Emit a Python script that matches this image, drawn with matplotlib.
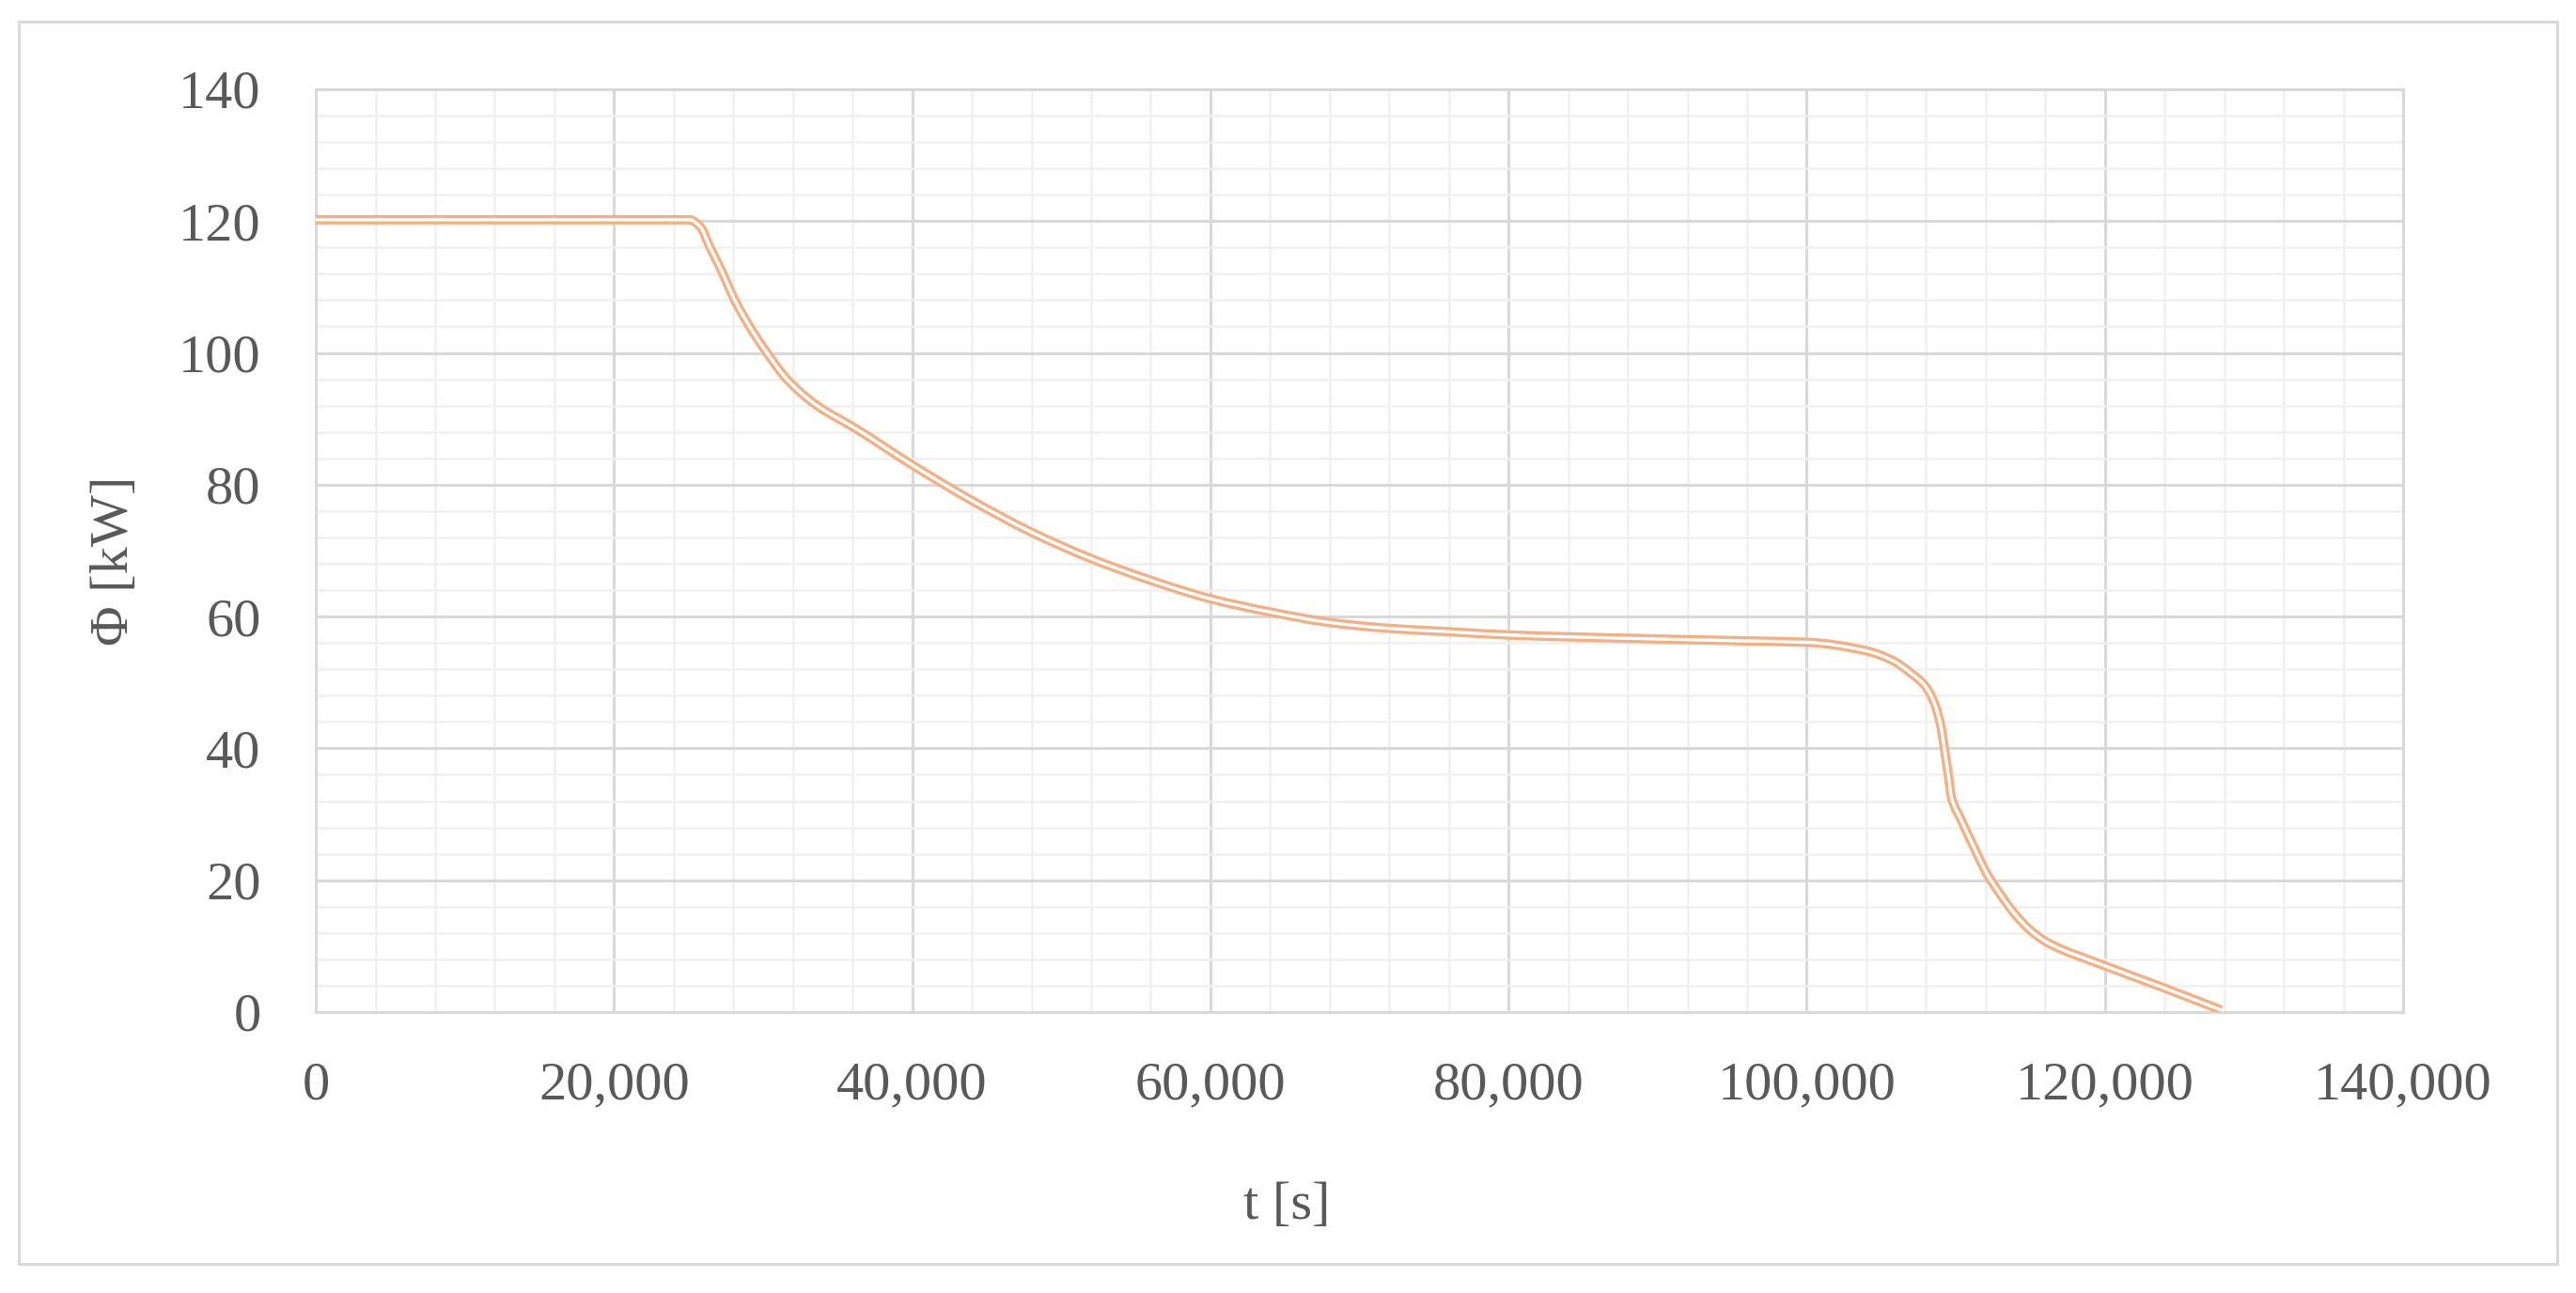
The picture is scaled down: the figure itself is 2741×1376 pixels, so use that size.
import matplotlib
matplotlib.use('Agg')
import matplotlib.pyplot as plt
from matplotlib.ticker import MultipleLocator, FuncFormatter
from matplotlib.patches import Rectangle, PathPatch
from matplotlib.path import Path

# time [s] and heat flow [kW]
t_s = [0, 5000, 10000, 15000, 20000, 24000, 25050, 25800, 26400, 27100, 28100,
       29200, 30200, 31600, 33500, 36300, 40000, 44000, 48000, 52000, 56000,
       60000, 64000, 68000, 72000, 76000, 80000, 88000, 96000, 100000, 104000,
       105700, 107000, 108000, 108600, 109000, 109200, 109500, 109700, 110300,
       111300, 112000, 113000, 113800, 114900, 116100, 119900, 123800, 127800]
phi_kw = [120.2, 120.2, 120.2, 120.2, 120.2, 120.2, 120.2, 119.1, 116.2, 113.0, 108.0,
          103.6, 100.2, 96.0, 92.2, 88.4, 83.0, 77.6, 72.8, 68.8, 65.5,
          62.7, 60.7, 59.1, 58.2, 57.7, 57.2, 56.7, 56.3, 56.1, 54.8,
          53.4, 51.4, 49.3, 46.6, 43.3, 40.4, 35.9, 32.6, 29.4,
          24.6, 21.3, 17.8, 15.3, 12.6, 10.6, 7.1, 3.8, 0.3]

x_label = 't [s]'
y_label = 'Φ [kW]'

plt.rcParams['font.family'] = ['Liberation Serif', 'DejaVu Serif']
text_col = '#595959'


def smooth_path(xs, ys):
    # smoothed line like Excel's: bezier segments through the read points,
    # tangents from neighbouring points (harmonic mean, no overshoot)
    n = len(xs)
    h = [xs[i + 1] - xs[i] for i in range(n - 1)]
    d = [(ys[i + 1] - ys[i]) / h[i] for i in range(n - 1)]
    s = [d[0]] + [0.0] * (n - 2) + [d[-1]]
    for k in range(1, n - 1):
        if d[k - 1] * d[k] > 0:
            w1 = 2 * h[k] + h[k - 1]
            w2 = h[k] + 2 * h[k - 1]
            s[k] = (w1 + w2) / (w1 / d[k - 1] + w2 / d[k])
    verts = [(xs[0], ys[0])]
    codes = [Path.MOVETO]
    for i in range(n - 1):
        verts += [(xs[i] + h[i] / 3, ys[i] + s[i] * h[i] / 3),
                  (xs[i + 1] - h[i] / 3, ys[i + 1] - s[i + 1] * h[i] / 3),
                  (xs[i + 1], ys[i + 1])]
        codes += [Path.CURVE4] * 3
    return Path(verts, codes)


fig = plt.figure(figsize=(13.705, 6.88), dpi=200)
ax = fig.add_axes([0.1226, 0.2173, 0.8103, 0.7137])

# outer chart border
fig.patches.append(Rectangle((20 / 2741, 1 - 1345 / 1376), 2701 / 2741, 1322 / 1376,
                             transform=fig.transFigure, fill=False,
                             edgecolor='#D9D9D9', linewidth=1.1))

ax.set_xlim(0, 140000)
ax.set_ylim(0, 140)
ax.xaxis.set_major_locator(MultipleLocator(20000))
ax.xaxis.set_minor_locator(MultipleLocator(4000))
ax.yaxis.set_major_locator(MultipleLocator(20))
ax.yaxis.set_minor_locator(MultipleLocator(4))
ax.xaxis.set_major_formatter(FuncFormatter(lambda v, p: '{:,.0f}'.format(v)))

ax.grid(which='major', color='#D9D9D9', linewidth=1.1)
ax.grid(which='minor', color='#F0F0F0', linewidth=0.9)
ax.set_axisbelow(True)
for sp in ax.spines.values():
    sp.set_color('#D9D9D9')
    sp.set_linewidth(1.1)

ax.tick_params(which='both', length=0, labelsize=21, labelcolor=text_col)
ax.tick_params(axis='y', pad=21)
ax.tick_params(axis='x', pad=19)

# compound (double) line: orange with a white core
curve = smooth_path(t_s, phi_kw)
ax.add_patch(PathPatch(curve, fill=False, edgecolor='#F4B084', linewidth=3.6,
                       joinstyle='round', capstyle='butt', zorder=3))
ax.add_patch(PathPatch(curve, fill=False, edgecolor='white', linewidth=1.2,
                       joinstyle='round', capstyle='butt', zorder=4))

fig.text(1369 / 2741, 1 - 1283 / 1376, x_label, ha='center', va='center',
         fontsize=21, color=text_col)
fig.text(122 / 2741, 1 - 597 / 1376, y_label, ha='center', va='center',
         rotation=90, fontsize=21, color=text_col)

fig.savefig('out.png', dpi=200, facecolor='white')
